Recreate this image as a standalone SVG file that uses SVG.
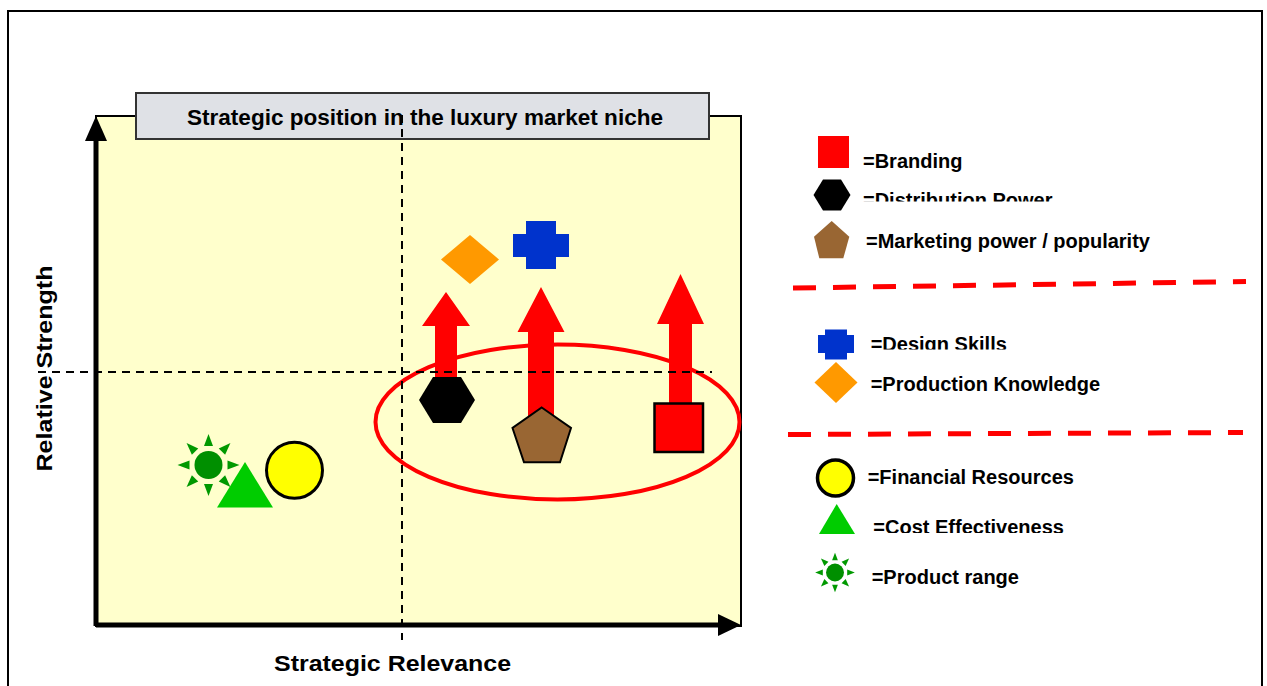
<svg xmlns="http://www.w3.org/2000/svg" xmlns:xlink="http://www.w3.org/1999/xlink" width="1267" height="686" viewBox="0 0 1267 686">
<style>
  .lbl { font-family: "Liberation Sans", Arial, sans-serif; font-weight: bold; fill: #000; }
  .leg { font-size: 20px; }
  .dash { stroke: #000; stroke-width: 2; stroke-dasharray: 8 6; fill: none; }
  .rdash { stroke: #ff0000; stroke-width: 5; stroke-dasharray: 23 17; fill: none; }
  .arrow { fill: #ff0000; stroke: none; }
</style>
<defs>
  <g id="sun">
    <circle cx="0" cy="0" r="14" fill="#008f00"/>
    <g fill="#009900">
      <polygon points="-4.5,-19 4.5,-19 0,-31"/>
      <polygon points="-4.5,-19 4.5,-19 0,-31" transform="rotate(45)"/>
      <polygon points="-4.5,-19 4.5,-19 0,-31" transform="rotate(90)"/>
      <polygon points="-4.5,-19 4.5,-19 0,-31" transform="rotate(135)"/>
      <polygon points="-4.5,-19 4.5,-19 0,-31" transform="rotate(180)"/>
      <polygon points="-4.5,-19 4.5,-19 0,-31" transform="rotate(225)"/>
      <polygon points="-4.5,-19 4.5,-19 0,-31" transform="rotate(270)"/>
      <polygon points="-4.5,-19 4.5,-19 0,-31" transform="rotate(315)"/>
    </g>
  </g>
  <clipPath id="clipDist"><rect x="850" y="180" width="300" height="21.5"/></clipPath>
  <clipPath id="clipDesign"><rect x="860" y="325" width="300" height="24.5"/></clipPath>
  <clipPath id="clipCost"><rect x="860" y="510" width="300" height="23"/></clipPath>
</defs>

<!-- outer frame -->
<rect x="8" y="11" width="1254" height="720" fill="#fff" stroke="#000" stroke-width="2"/>

<!-- plot area -->
<g id="plot">
  <rect x="96" y="116" width="645" height="510" fill="#ffffcc" stroke="#000" stroke-width="2"/>
  <line x1="96" y1="626" x2="96" y2="138" stroke="#000" stroke-width="5"/>
  <polygon points="85,141 107,141 96,116" fill="#000"/>
  <line x1="96" y1="625" x2="720" y2="625" stroke="#000" stroke-width="5"/>
  <polygon points="718,614 718,636 741,625" fill="#000"/>
</g>

<g id="title">
  <rect x="136" y="93" width="573" height="46" fill="#dfe1e6" stroke="#333" stroke-width="2"/>
  <text class="lbl" x="187" y="124.5" font-size="22.5" textLength="476" lengthAdjust="spacingAndGlyphs">Strategic position in the luxury market niche</text>
</g>

<g id="axis-labels">
  <text class="lbl" x="392.5" y="671" font-size="22" text-anchor="middle" textLength="237" lengthAdjust="spacingAndGlyphs">Strategic Relevance</text>
  <text class="lbl" font-size="22" text-anchor="middle" textLength="206" lengthAdjust="spacingAndGlyphs" transform="translate(52,368.5) rotate(-90)">Relative Strength</text>
</g>

<g id="connectors">
  <ellipse cx="557.5" cy="422" rx="182" ry="77.5" fill="none" stroke="#ff0000" stroke-width="4"/>
  <polygon class="arrow" points="435,382 435,326 422,326 446,292 470,326 457,326 457,382"/>
  <polygon class="arrow" points="528,422 528,332 517.5,332 541,287 564.5,332 554,332 554,422"/>
  <polygon class="arrow" points="669,406 669,324 657,324 680.5,274 704,324 692,324 692,406"/>
  <line class="dash" x1="402" y1="115" x2="402" y2="640"/>
  <line class="dash" x1="38" y1="372" x2="712" y2="372"/>
</g>

<g id="node-production">
  <polygon points="470,235 499,259.5 470,284 441,259.5" fill="#ff9900"/>
</g>
<g id="node-design">
  <path d="M526,221 H556 V234 H569 V257 H556 V269 H526 V257 H513 V234 H526 Z" fill="#0033cc"/>
</g>
<g id="node-distribution">
  <polygon points="419,400 433,377 461,377 475,400 461,423 433,423" fill="#000"/>
</g>
<g id="node-marketing">
  <polygon points="541.7,407.5 571,428 560,462.3 524,462.3 512.5,428" fill="#996633" stroke="#000" stroke-width="2"/>
</g>
<g id="node-branding">
  <rect x="654.5" y="403.5" width="48.5" height="48.5" fill="#ff0000" stroke="#000" stroke-width="2.5"/>
</g>
<g id="node-product-range">
  <use xlink:href="#sun" transform="translate(208.5,465)"/>
</g>
<g id="node-cost">
  <polygon points="245,462 273,507.5 217,507.5" fill="#00cc00"/>
</g>
<g id="node-financial">
  <circle cx="294.5" cy="470.3" r="28" fill="#ffff00" stroke="#000" stroke-width="3"/>
</g>

<g id="legend">
  <rect x="818" y="136" width="31" height="32" fill="#ff0000"/>
  <text class="lbl leg" x="863" y="167.7">=Branding</text>

  <polygon points="813.5,195 823,179.5 841,179.5 850.5,195 841,210.5 823,210.5" fill="#000"/>
  <text class="lbl leg" x="863" y="207" clip-path="url(#clipDist)">=Distribution Power</text>

  <polygon points="831.7,221 849.3,236.7 843.3,258.3 819.3,258.3 814,236.7" fill="#996633"/>
  <text class="lbl leg" x="866" y="248.3">=Marketing power / popularity</text>

  <line class="rdash" x1="793" y1="288" x2="1246" y2="281.5"/>

  <path d="M825,329.5 H847 V335 H854 V353 H847 V359.5 H825 V353 H818 V335 H825 Z" fill="#0033cc"/>
  <text class="lbl leg" x="870.7" y="351" clip-path="url(#clipDesign)">=Design Skills</text>

  <polygon points="836,362 857.5,382.5 836,403 814.5,382.5" fill="#ff9900"/>
  <text class="lbl leg" x="870.7" y="390.7">=Production Knowledge</text>

  <line class="rdash" x1="788" y1="434.5" x2="1243" y2="432.5"/>

  <circle cx="835.5" cy="478" r="18" fill="#ffff00" stroke="#000" stroke-width="3.5"/>
  <text class="lbl leg" x="867.7" y="484.3">=Financial Resources</text>

  <polygon points="836.7,504 855,534 819,534" fill="#00cc00"/>
  <text class="lbl leg" x="873.3" y="534.3" clip-path="url(#clipCost)">=Cost Effectiveness</text>

  <use xlink:href="#sun" transform="translate(835,572.5) scale(0.64)"/>
  <text class="lbl leg" x="871.7" y="584">=Product range</text>
</g>
</svg>
